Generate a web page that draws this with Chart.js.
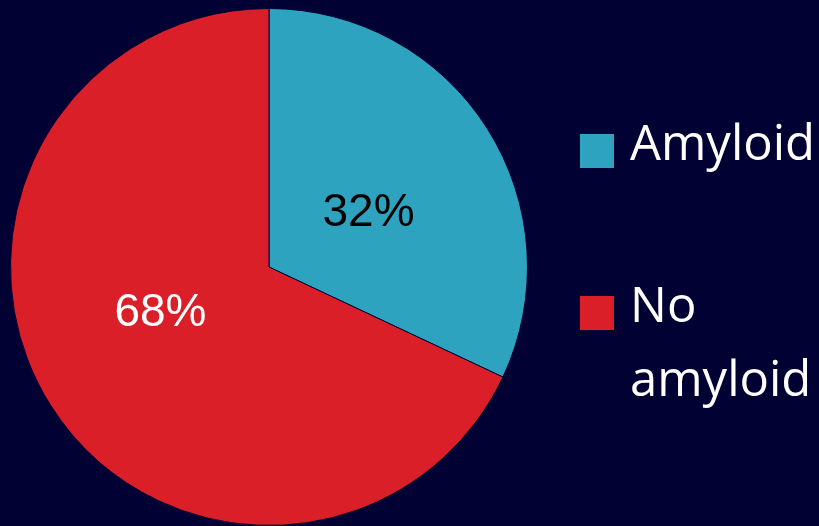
<!DOCTYPE html>
<html>
<head>
<meta charset="utf-8">
<script src="https://cdn.jsdelivr.net/npm/chart.js@4"></script>
<style>
  html, body { margin: 0; padding: 0; background: #010134; }
  #wrap { width: 819px; height: 526px; }
</style>
</head>
<body>
<div id="wrap"><canvas id="myChart"></canvas></div>
<script>
let labels = ["Amyloid", "No amyloid"];
let legendLines = [["Amyloid"], ["No", "amyloid"]];
let values = [32, 68];
let colors = ["#2ea3c0", "#da1f28"];
let labelColors = ["#000000", "#ffffff"];

// small tweaks so the % labels sit where the original had them
let labelAngleShift = [0.06, 0.17];
let labelDist = [0.44, 0.455];

let pctLabels = {
  id: 'pctLabels',
  afterDatasetsDraw(chart) {
    let ctx = chart.ctx;
    let meta = chart.getDatasetMeta(0);
    let total = values.reduce((a, b) => a + b, 0);
    ctx.save();
    ctx.font = '46px "Liberation Sans", Arial, sans-serif';
    ctx.textAlign = 'center';
    ctx.textBaseline = 'middle';
    meta.data.forEach((arc, i) => {
      let p = arc.getProps(['x', 'y', 'startAngle', 'endAngle', 'outerRadius'], true);
      let mid = (p.startAngle + p.endAngle) / 2 + labelAngleShift[i];
      let d = p.outerRadius * labelDist[i];
      ctx.fillStyle = labelColors[i];
      ctx.fillText(Math.round(values[i] / total * 100) + '%', p.x + Math.cos(mid) * d, p.y + Math.sin(mid) * d + 1);
    });
    ctx.restore();
  }
};

let sideLegend = {
  id: 'sideLegend',
  afterDraw(chart) {
    let ctx = chart.ctx;
    let area = chart.chartArea;
    let boxX = area.right + 52;
    let textX = boxX + 50;
    let rowY = [150, 312];
    let lineH = 74;
    ctx.save();
    ctx.font = '49px "Open Sans", sans-serif';
    ctx.textBaseline = 'alphabetic';
    ctx.textAlign = 'left';
    labels.forEach((lab, i) => {
      ctx.fillStyle = colors[i];
      ctx.fillRect(boxX, rowY[i] - 16, 34, 34);
      ctx.fillStyle = '#ffffff';
      legendLines[i].forEach((ln, j) => {
        ctx.fillText(ln, textX, rowY[i] + 10 + j * lineH);
      });
    });
    ctx.restore();
  }
};

let myChart = document.getElementById("myChart").getContext('2d');

let chart = new Chart(myChart, {
  type: 'pie',
  data: {
    labels: labels,
    datasets: [{
      data: values,
      backgroundColor: colors,
      borderColor: '#010134',
      borderWidth: 1
    }]
  },
  options: {
    responsive: true,
    maintainAspectRatio: false,
    animation: false,
    layout: { padding: { left: 10, right: 291, top: 8, bottom: 0 } },
    plugins: {
      legend: { display: false },
      tooltip: { enabled: false }
    }
  },
  plugins: [pctLabels, sideLegend]
});
</script>
</body>
</html>
